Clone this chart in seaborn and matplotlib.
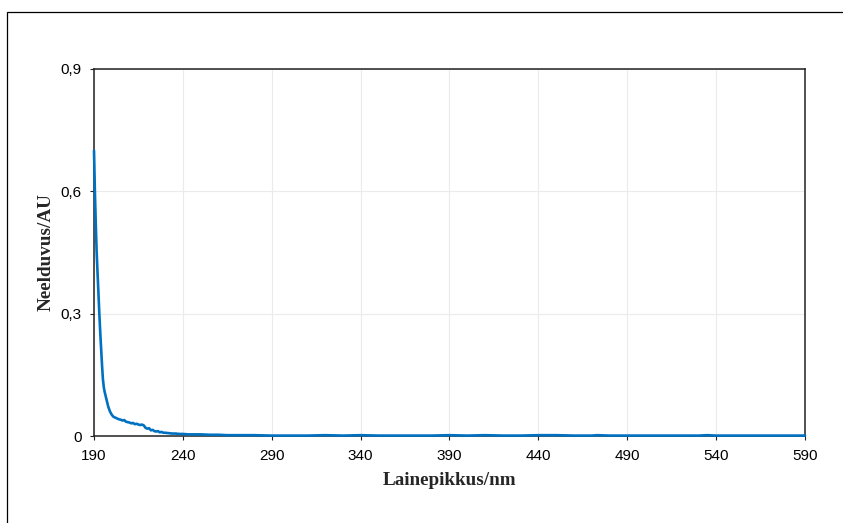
import matplotlib
matplotlib.use("Agg")
import matplotlib.pyplot as plt
import seaborn as sns
from matplotlib.patches import Rectangle
from matplotlib.ticker import FuncFormatter

# UV-Vis spectrum
wavelength = [190, 190.5, 191, 191.5, 192, 192.5, 193, 193.5, 194, 194.5, 195, 195.5,
              196, 197, 198, 199, 200, 201, 202, 203, 204, 205, 206, 207, 208, 209,
              210, 211, 212, 213, 214, 215, 216, 217, 218, 219, 220, 221, 222, 223,
              224, 225, 226, 227, 228, 229, 230, 232, 234, 236, 238, 240, 243, 246,
              250, 255, 260, 265, 270, 280, 290, 300, 310, 320, 330, 340, 350, 360,
              370, 380, 390, 400, 410, 420, 430, 440, 450, 460, 470, 473, 480, 490,
              500, 510, 520, 530, 535, 540, 550, 560, 570, 580, 590]
absorbance = [0.700, 0.600, 0.520, 0.450, 0.400, 0.350, 0.300, 0.255, 0.215, 0.175,
              0.140, 0.120, 0.108, 0.090, 0.072, 0.060, 0.052, 0.047, 0.045, 0.043,
              0.041, 0.040, 0.038, 0.039, 0.035, 0.034, 0.033, 0.031, 0.032, 0.029,
              0.030, 0.028, 0.027, 0.028, 0.026, 0.020, 0.018, 0.019, 0.014, 0.015,
              0.012, 0.011, 0.012, 0.009, 0.010, 0.008, 0.008, 0.007, 0.006, 0.006,
              0.005, 0.005, 0.004, 0.004, 0.004, 0.003, 0.003, 0.002, 0.002, 0.002,
              0.001, 0.001, 0.001, 0.002, 0.001, 0.002, 0.001, 0.001, 0.001, 0.001,
              0.002, 0.001, 0.002, 0.001, 0.001, 0.002, 0.002, 0.001, 0.001, 0.002,
              0.001, 0.001, 0.001, 0.001, 0.001, 0.001, 0.002, 0.001, 0.001, 0.001,
              0.001, 0.001, 0.001]

x_ticks = [190, 240, 290, 340, 390, 440, 490, 540, 590]
y_ticks = [0, 0.3, 0.6, 0.9]
x_label = "Lainepikkus/nm"
y_label = "Neelduvus/AU"

sns.set_style("ticks")
plt.rcParams["font.family"] = ["Liberation Sans", "DejaVu Sans"]

fig = plt.figure(figsize=(8.43, 5.23), dpi=100)
ax = fig.add_axes([94 / 843, 1 - 436 / 523, 711 / 843, 367 / 523])

sns.lineplot(x=wavelength, y=absorbance, ax=ax, color="#0070C0",
             linewidth=1.9, zorder=5, clip_on=False)

ax.set_xlim(190, 590)
ax.set_ylim(0, 0.9)
ax.set_xticks(x_ticks)
ax.set_yticks(y_ticks)
ax.yaxis.set_major_formatter(FuncFormatter(
    lambda v, _: "0" if v == 0 else f"{v:.1f}".replace(".", ",")))

ax.grid(True, color="#ebebeb", linewidth=0.8)
ax.set_axisbelow(True)
for s in ax.spines.values():
    s.set_color("#222222")
    s.set_linewidth(1.1)
ax.tick_params(direction="out", length=3, width=0.8, color="#222222",
               labelsize=11, labelcolor="black")
ax.tick_params(axis="x", pad=6)
ax.tick_params(axis="y", pad=6)

serif = ["Liberation Serif", "DejaVu Serif"]
ax.set_xlabel(x_label, fontsize=13.8, fontweight="bold", family=serif)
ax.set_ylabel(y_label, fontsize=13.8, fontweight="bold", family=serif)
ax.xaxis.set_label_coords(0.5, -0.097)
ax.yaxis.set_label_coords(-0.056, 0.5)

# outer chart-area frame (runs off the right and bottom edges)
fig.add_artist(Rectangle((7 / 843, -0.1), 1.2, 1 - 12 / 523 + 0.1,
                         transform=fig.transFigure, fill=False,
                         edgecolor="black", linewidth=0.9, clip_on=False))

fig.savefig("out.png", dpi=100)
